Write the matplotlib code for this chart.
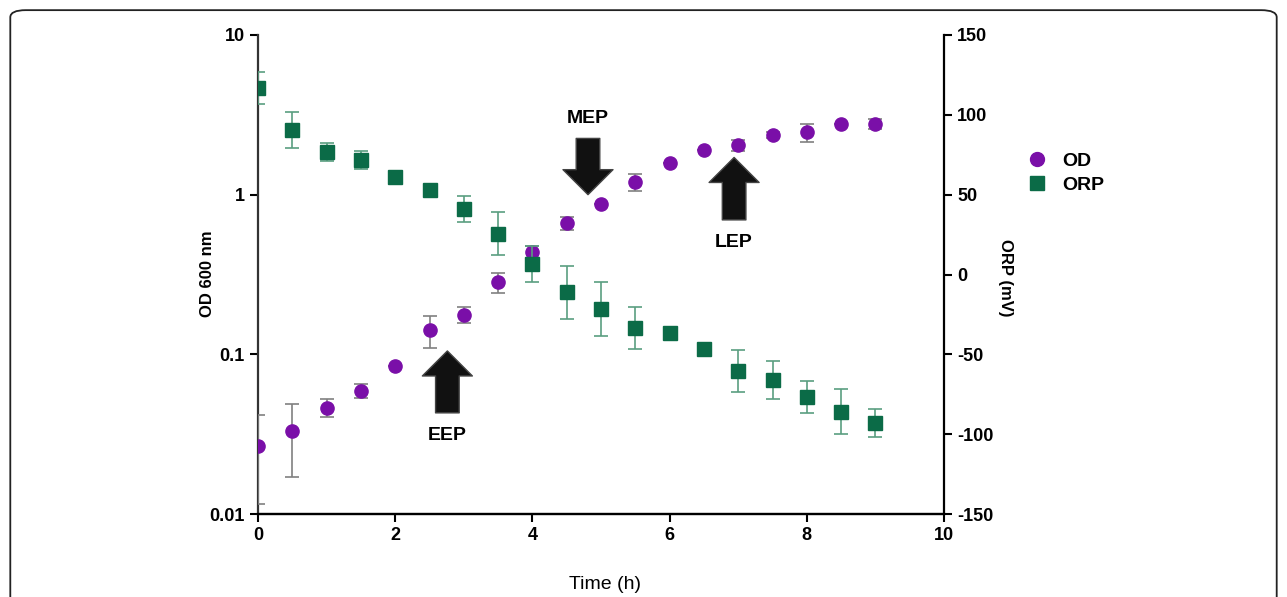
import numpy as np
import matplotlib.pyplot as plt
from matplotlib.lines import Line2D
from matplotlib.patches import FancyBboxPatch

plt.rcParams['font.family'] = ['Liberation Sans', 'DejaVu Sans']
plt.rcParams['axes.unicode_minus'] = False

# ---- data ----
time = [0, 0.5, 1, 1.5, 2, 2.5, 3, 3.5, 4, 4.5, 5, 5.5, 6, 6.5, 7, 7.5, 8, 8.5, 9]

od = [0.0267, 0.0331, 0.0463, 0.0593, 0.0845, 0.142, 0.177, 0.282, 0.44, 0.662,
      0.871, 1.20, 1.573, 1.905, 2.04, 2.37, 2.46, 2.76, 2.76]
od_err = [0.0152, 0.016, 0.006, 0.006, 0.0, 0.033, 0.02, 0.039, 0.036, 0.062,
          0.0, 0.15, 0.0, 0.0, 0.15, 0.1, 0.32, 0.0, 0.2]

orp = [117, 90.5, 76.7, 71.7, 61.1, 52.9, 41, 25.4, 6.6, -11,
       -21.6, -33.5, -36.6, -46.6, -60.4, -66, -76.7, -86, -93]
orp_err = [10, 11, 5.5, 5.5, 0, 0, 8, 13.5, 11, 16.6,
           17, 13, 3, 2, 13, 12, 10, 14, 9]

# growth phase markers: (label, time, OD at tail, OD at tip)
phases = [("EEP", 2.76, 0.043, 0.105),
          ("MEP", 4.81, 2.25, 1.0),
          ("LEP", 6.94, 0.695, 1.71)]

purple = '#7a0fa8'
green = '#0b6b47'

fig = plt.figure(figsize=(12.87, 5.97), dpi=100)
ax1 = fig.add_axes([0.2005, 0.139, 0.533, 0.8024])
ax2 = ax1.twinx()

# OD on log axis
ax1.errorbar(time, od, yerr=od_err, fmt='o', color=purple, ms=9.5,
             ecolor='#808080', elinewidth=1.2, capsize=5, capthick=1.2, zorder=3)
ax1.set_yscale('log')
ax1.set_ylim(0.01, 10)
ax1.set_xlim(0, 10)
ax1.set_xticks([0, 2, 4, 6, 8, 10])
ax1.set_yticks([0.01, 0.1, 1, 10])
ax1.set_yticklabels(['0.01', '0.1', '1', '10'])
ax1.minorticks_off()

# ORP on linear axis
ax2.errorbar(time, orp, yerr=orp_err, fmt='s', color=green, ms=10,
             ecolor='#5a9e80', elinewidth=1.2, capsize=5, capthick=1.2, zorder=3)
ax2.set_ylim(-150, 150)
ax2.set_yticks([-150, -100, -50, 0, 50, 100, 150])

for ax in (ax1, ax2):
    ax.spines['top'].set_visible(False)
    for s in ('left', 'right', 'bottom'):
        ax.spines[s].set_linewidth(1.6)
    ax.tick_params(direction='out', length=6, width=1.5, labelsize=13)
    for lab in ax.get_xticklabels() + ax.get_yticklabels():
        lab.set_fontweight('bold')
ax1.spines['right'].set_visible(False)
ax2.spines['left'].set_visible(False)
ax1.spines['left'].set_color('#333333')
ax1.spines['bottom'].set_color('#333333')

ax1.set_ylabel('OD 600 nm', fontsize=12, fontweight='bold', va='center')
ax1.yaxis.set_label_coords(-0.0736, 0.502)
ax2.set_ylabel('ORP (mV)', fontsize=12, fontweight='bold', rotation=-90, va='center')
ax2.yaxis.set_label_coords(1.089, 0.494)
ax1.set_xlabel('Time (h)', fontsize=14, va='center')
ax1.xaxis.set_label_coords(0.506, -0.148)

# phase arrows
for name, t, y0, y1 in phases:
    ax1.annotate('', xy=(t, y1), xytext=(t, y0),
                 arrowprops=dict(width=17, headwidth=36, headlength=18,
                                 facecolor='#111111', edgecolor='#444444', lw=1),
                 zorder=4)
    if y1 > y0:
        ax1.annotate(name, xy=(t, y0), xytext=(0, -16), textcoords='offset points',
                     ha='center', va='center', fontsize=14, fontweight='bold')
    else:
        ax1.annotate(name, xy=(t, y0), xytext=(0, 14), textcoords='offset points',
                     ha='center', va='center', fontsize=14, fontweight='bold')

handles = [Line2D([], [], marker='o', ls='', color=purple, ms=10),
           Line2D([], [], marker='s', ls='', color=green, ms=10)]
leg = fig.legend(handles, ['OD', 'ORP'], loc='center left', bbox_to_anchor=(0.783, 0.71),
                 frameon=False, handletextpad=0.7, labelspacing=0.35, handlelength=1.2,
                 prop={'size': 14, 'weight': 'bold'})

# rounded frame around figure
frame = FancyBboxPatch((0.008, -0.05), 0.984, 1.033, boxstyle='round,pad=0,rounding_size=0.012',
                       transform=fig.transFigure, fill=False, edgecolor='#222222', lw=1.3)
fig.patches.append(frame)

fig.savefig('out.png', dpi=100)
